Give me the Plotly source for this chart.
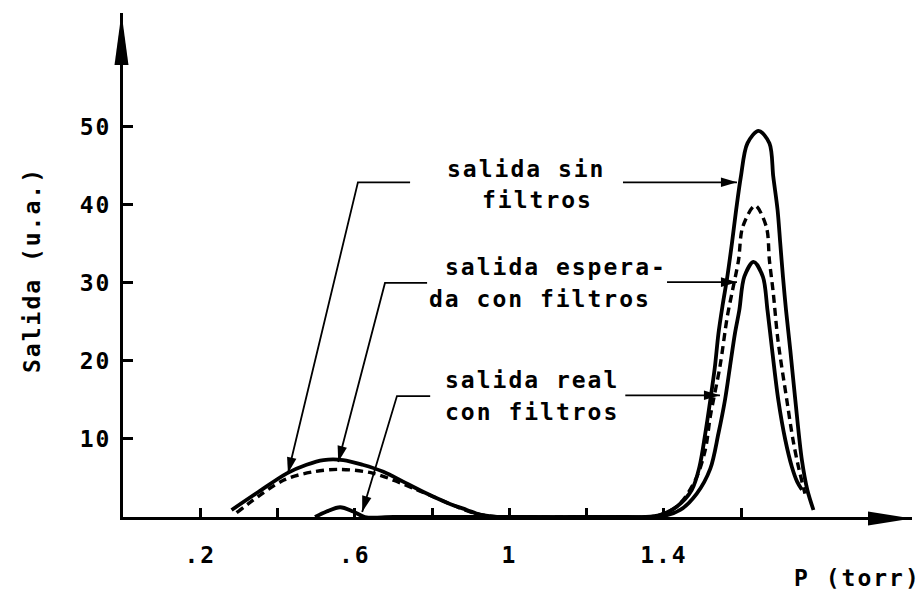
import math
import plotly.graph_objects as go

# Output (a.u.) versus pressure P (torr)
p_sin = [0.281, 0.35, 0.424, 0.475, 0.519, 0.57, 0.62, 0.674, 0.73, 0.786, 0.84, 0.89,
         0.924, 0.96, 1.0, 1.2, 1.35, 1.39, 1.433, 1.472, 1.492, 1.507, 1.520, 1.532,
         1.541, 1.552, 1.564, 1.576, 1.587, 1.599, 1.616, 1.645, 1.673, 1.683, 1.694,
         1.701, 1.708, 1.716, 1.727, 1.740, 1.757, 1.771, 1.787]
s_sin = [0.9, 3.2, 5.6, 6.7, 7.3, 7.3, 6.7, 5.8, 4.4, 3.0, 1.8, 0.9,
         0.3, 0.05, 0, 0, 0, 0.26, 1.32, 3.46, 6.45, 10.7, 15.0, 19.3,
         23.5, 27.2, 30.8, 35.1, 39.4, 43.6, 47.9, 49.5, 47.9, 43.6, 39.4,
         35.1, 30.8, 26.5, 21.4, 15.0, 7.3, 3.5, 0.9]

p_esperada = [0.294, 0.415, 0.493, 0.562, 0.648, 0.760, 0.855, 0.907, 0.95, 1.0, 1.2,
              1.36, 1.390, 1.437, 1.481, 1.507, 1.520, 1.545, 1.564, 1.576, 1.593,
              1.604, 1.636, 1.665, 1.673, 1.683, 1.695, 1.718, 1.734, 1.748, 1.765]
s_esperada = [0.55, 4.7, 5.8, 6.1, 5.6, 3.5, 1.5, 0.5, 0.1, 0, 0,
              0, 0.26, 1.5, 4.7, 8.6, 12.9, 19.3, 25.7, 28.7, 32.9,
              37.2, 39.9, 37.2, 32.9, 28.7, 22.7, 15.0, 9.9, 6.45, 3.0]

p_real = [0.497, 0.527, 0.562, 0.596, 0.626, 0.7, 1.0, 1.3, 1.395, 1.442, 1.485,
          1.520, 1.541, 1.558, 1.571, 1.584, 1.595, 1.608, 1.632, 1.656, 1.668,
          1.680, 1.696, 1.714, 1.731, 1.745, 1.757]
s_real = [0, 0.7, 1.25, 0.7, 0, 0, 0, 0, 0.1, 0.9, 3.0,
          6.2, 10.7, 15.0, 19.3, 23.6, 26.5, 30.8, 32.7, 30.8, 26.5,
          21.4, 15.0, 9.9, 6.45, 4.5, 3.5]

x_tick_vals = [0.2, 0.4, 0.6, 0.8, 1.0, 1.2, 1.4, 1.6]
x_tick_text = [".2", "", ".6", "", "1", "", "1.4", ""]
y_tick_vals = [10, 20, 30, 40, 50]
y_tick_text = ["10", "20", "30", "40", "50"]

# ---------------------------------------------------------------- layout
X_END = 2.042
Y_END = 64.6
MARGIN = dict(l=123, r=11, t=13, b=73)
FIG_W, FIG_H = 923, 590
PLOT_W = FIG_W - MARGIN["l"] - MARGIN["r"]
PLOT_H = FIG_H - MARGIN["t"] - MARGIN["b"]
AXIS_LW = 3
FONT = dict(family="DejaVu Sans Mono", size=23, color="black", weight="bold")
INK = "black"


def spaced(s, px=2):
    return f'<span style="letter-spacing:{px}px">{s}</span>' if s else s


def to_px(x, y):
    return MARGIN["l"] + x / X_END * PLOT_W, MARGIN["t"] + (1 - y / Y_END) * PLOT_H


def to_paper(px, py):
    return (px - MARGIN["l"]) / PLOT_W, 1 - (py - MARGIN["t"]) / PLOT_H


def head(tip_px, from_px, length, half_w):
    """Filled triangular arrowhead (paper coordinates) pointing at tip_px."""
    tx, ty = tip_px
    dx, dy = tx - from_px[0], ty - from_px[1]
    n = math.hypot(dx, dy)
    ux, uy = dx / n, dy / n
    bx, by = tx - ux * length, ty - uy * length
    pts = [(tx, ty), (bx - uy * half_w, by + ux * half_w), (bx + uy * half_w, by - ux * half_w)]
    pp = [to_paper(*p) for p in pts]
    path = "M{:.5f},{:.5f} L{:.5f},{:.5f} L{:.5f},{:.5f} Z".format(*[c for p in pp for c in p])
    return dict(type="path", xref="paper", yref="paper", path=path,
                fillcolor=INK, line=dict(width=0), layer="above")


fig = go.Figure()

fig.add_trace(go.Scatter(x=p_sin, y=s_sin, mode="lines", name="salida sin filtros",
                         line=dict(color=INK, width=3.8, shape="spline", smoothing=0.9)))
fig.add_trace(go.Scatter(x=p_esperada, y=s_esperada, mode="lines",
                         name="salida esperada con filtros",
                         line=dict(color=INK, width=3.4, dash="8px,5px",
                                   shape="spline", smoothing=0.9)))
fig.add_trace(go.Scatter(x=p_real, y=s_real, mode="lines", name="salida real con filtros",
                         line=dict(color=INK, width=3.8, shape="spline", smoothing=0.9)))

# Callout text, one line per annotation (left edge x, middle y)
label_lines = [
    ("salida sin", 0.834, 44.65),
    ("filtros", 0.924, 40.6),
    ("salida espera-", 0.828, 32.05),
    ("da con filtros", 0.786, 28.0),
    ("salida real", 0.829, 17.5),
    ("con filtros", 0.829, 13.46),
]
# Leader lines: last point is the arrow tip
leaders = [
    [(0.743, 42.9), (0.608, 42.9), (0.427, 5.6)],
    [(1.294, 42.9), (1.589, 42.9)],
    [(0.787, 30.0), (0.678, 30.0), (0.557, 7.05)],
    [(1.408, 30.1), (1.589, 30.1)],
    [(0.795, 15.5), (0.709, 15.5), (0.619, 0.64)],
    [(1.300, 15.6), (1.545, 15.6)],
]

annotations = []
for text, x, y in label_lines:
    annotations.append(dict(x=x, y=y, xref="x", yref="y", text=spaced(text),
                            showarrow=False, xanchor="left", yanchor="middle", font=FONT))

shapes = []
for pts in leaders:
    path = "M " + " L ".join(f"{x},{y}" for x, y in pts)
    shapes.append(dict(type="path", xref="x", yref="y", path=path,
                       line=dict(color=INK, width=1.8)))
    shapes.append(head(to_px(*pts[-1]), to_px(*pts[-2]), 16, 4.8))

# Arrowheads on both axes
y_line_x = MARGIN["l"] - AXIS_LW / 2
x_line_y = MARGIN["t"] + PLOT_H + AXIS_LW / 2
shapes.append(head((y_line_x, MARGIN["t"]), (y_line_x, MARGIN["t"] + 100), 52, 7))
shapes.append(head((MARGIN["l"] + PLOT_W, x_line_y), (MARGIN["l"] + PLOT_W - 100, x_line_y), 44, 7))

# Axis titles
ax_t = to_paper(32, 270)
annotations.append(dict(x=ax_t[0], y=ax_t[1], xref="paper", yref="paper",
                        text=spaced("Salida (u.a.)"), textangle=-90, showarrow=False,
                        xanchor="center", yanchor="middle", font=FONT))
px_t = to_paper(857, 578)
annotations.append(dict(x=px_t[0], y=px_t[1], xref="paper", yref="paper",
                        text=spaced("P (torr)"), showarrow=False,
                        xanchor="center", yanchor="middle", font=FONT))

axis_common = dict(showgrid=False, zeroline=False, showline=True, linecolor=INK,
                   linewidth=AXIS_LW, ticks="inside", tickcolor=INK, tickwidth=2.5,
                   tickfont=FONT)

fig.update_layout(
    width=FIG_W, height=FIG_H, margin=MARGIN,
    paper_bgcolor="white", plot_bgcolor="white", showlegend=False,
    xaxis=dict(range=[0, X_END], tickmode="array", tickvals=x_tick_vals,
               ticktext=[spaced(t) for t in x_tick_text], ticklen=9,
               ticklabelstandoff=15, **axis_common),
    yaxis=dict(range=[0, Y_END], tickmode="array", tickvals=y_tick_vals,
               ticktext=[spaced(t) for t in y_tick_text], ticklen=10,
               ticklabelstandoff=4, **axis_common),
    annotations=annotations, shapes=shapes,
)

fig.write_html("out.html")
